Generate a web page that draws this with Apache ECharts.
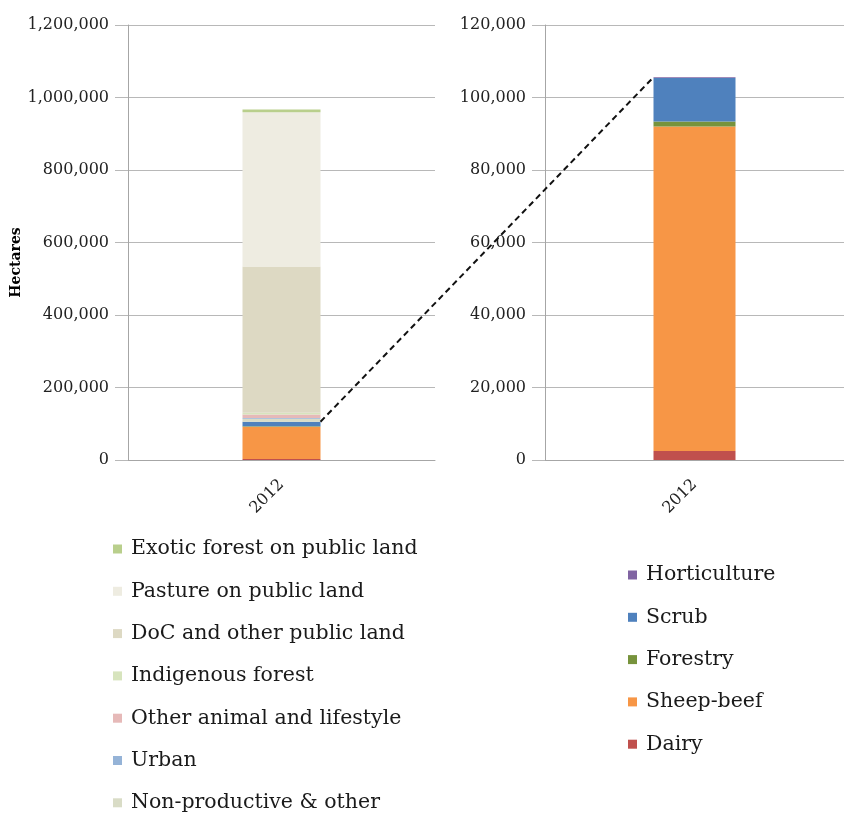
<!DOCTYPE html>
<html>
<head>
<meta charset="utf-8">
<script src="https://cdn.jsdelivr.net/npm/echarts@6/dist/echarts.min.js"></script>
<style>
  html, body { margin: 0; padding: 0; background: #fff; }
  #chart { width: 844px; height: 814px; }
</style>
</head>
<body>
<div id="chart"></div>
<script>
// Land use by category, 2012 (hectares)
const years = ['2012'];

// Productive farm land (stacked bottom to top)
const farmNames = ['Dairy', 'Sheep-beef', 'Forestry', 'Scrub', 'Horticulture'];
const farmValues = [2500, 89500, 1400, 12000, 200];
const farmColors = ['#c0504d', '#f79646', '#77933c', '#4f81bd', '#8064a2'];

// Remaining land, stacked above the farm land
const otherNames = ['Non-productive & other', 'Urban', 'Other animal and lifestyle',
  'Indigenous forest', 'DoC and other public land', 'Pasture on public land',
  'Exotic forest on public land'];
const otherValues = [8000, 2000, 10000, 5000, 403000, 426000, 7000];
const otherColors = ['#d9dcc6', '#95b3d7', '#e6b9b8', '#d7e4bd', '#ddd9c3', '#eeece1', '#b9cf8c'];

// Axis ranges
const leftMax = 1200000, leftStep = 200000;
const rightMax = 120000, rightStep = 20000;

const FONT = 'DejaVu Serif';
const gridColor = '#b8b8b8';
const axisColor = '#a6a6a6';
const leftBarW = 78, rightBarW = 82;

const fmt = v => Number(v).toLocaleString('en-US');

function yAxis(gridIndex, max, step, name) {
  return {
    gridIndex, type: 'value', min: 0, max, interval: step,
    name: name || '', nameLocation: 'middle', nameGap: 102, nameRotate: 90,
    nameTextStyle: { fontFamily: FONT, fontWeight: 'bold', fontSize: 14, color: '#000', padding: [0, 40, 0, 0] },
    axisLine: { show: true, lineStyle: { color: axisColor, width: 1 } },
    axisTick: { show: true, length: 13, lineStyle: { color: gridColor } },
    splitLine: { show: true, lineStyle: { color: gridColor, width: 1 } },
    axisLabel: { formatter: fmt, fontFamily: FONT, fontSize: 16, color: '#222', margin: 19 }
  };
}

function xAxis(gridIndex) {
  return {
    gridIndex, type: 'category', data: years,
    axisLine: { show: true, lineStyle: { color: axisColor, width: 1 } },
    axisTick: { show: false },
    axisLabel: { rotate: 45, fontFamily: FONT, fontSize: 16, color: '#222', margin: 22 }
  };
}

const series = [];
farmNames.forEach((n, i) => series.push({
  name: n, type: 'bar', stack: 'left', xAxisIndex: 0, yAxisIndex: 0,
  barWidth: leftBarW, itemStyle: { color: farmColors[i] }, data: [farmValues[i]]
}));
otherNames.forEach((n, i) => series.push({
  name: n, type: 'bar', stack: 'left', xAxisIndex: 0, yAxisIndex: 0,
  barWidth: leftBarW, itemStyle: { color: otherColors[i] }, data: [otherValues[i]]
}));
farmNames.forEach((n, i) => series.push({
  name: n, type: 'bar', stack: 'right', xAxisIndex: 1, yAxisIndex: 1,
  barWidth: rightBarW, itemStyle: { color: farmColors[i] }, data: [farmValues[i]]
}));

const legendText = { fontFamily: FONT, fontSize: 20.5, color: '#1a1a1a', lineHeight: 22, padding: [0, 0, 0, 4] };

const chart = echarts.init(document.getElementById('chart'), null, { renderer: 'canvas' });
chart.setOption({
  animation: false,
  backgroundColor: '#fff',
  grid: [
    { left: 128, right: 409, top: 25, bottom: 354 },
    { left: 545, right: 0, top: 25, bottom: 354 }
  ],
  xAxis: [xAxis(0), xAxis(1)],
  yAxis: [yAxis(0, leftMax, leftStep, 'Hectares'), yAxis(1, rightMax, rightStep)],
  legend: [
    {
      orient: 'vertical', left: 113, top: 538, height: 320, padding: 0,
      icon: 'rect', itemWidth: 9, itemHeight: 9,
      itemGap: 20.3, textStyle: legendText, data: otherNames.slice().reverse(),
      selectedMode: false
    },
    {
      orient: 'vertical', left: 628, top: 564, height: 240, padding: 0,
      icon: 'rect', itemWidth: 9, itemHeight: 9,
      itemGap: 20.3, textStyle: legendText, data: farmNames.slice().reverse(),
      selectedMode: false
    }
  ],
  series
});

// Dashed connector from the top of the farm-land stack on the left
// to the top of the expanded bar on the right
const farmTotal = farmValues.reduce((a, b) => a + b, 0);
const pL = chart.convertToPixel({ xAxisIndex: 0, yAxisIndex: 0 }, [years[0], farmTotal]);
const pR = chart.convertToPixel({ xAxisIndex: 1, yAxisIndex: 1 }, [years[0], farmTotal]);
chart.setOption({
  graphic: [{
    type: 'line', z: 100,
    shape: { x1: pL[0] + leftBarW / 2, y1: pL[1], x2: pR[0] - rightBarW / 2, y2: pR[1] },
    style: { stroke: '#111', lineWidth: 2, lineDash: [6, 4] }
  }]
});
</script>
</body>
</html>
